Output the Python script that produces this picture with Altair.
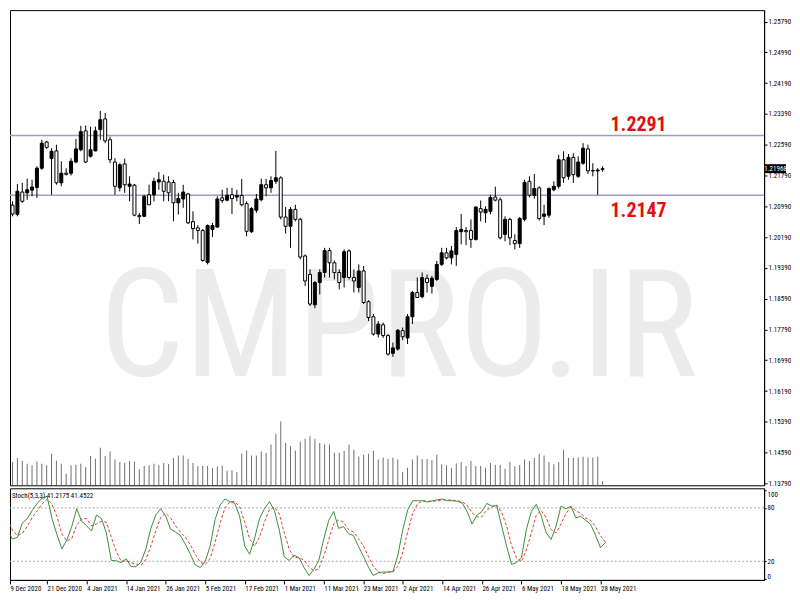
import altair as alt
import pandas as pd

# ---------------- data ----------------
date_labels = ["9 Dec 2020", "21 Dec 2020", "4 Jan 2021", "14 Jan 2021", "26 Jan 2021",
               "5 Feb 2021", "17 Feb 2021", "1 Mar 2021", "11 Mar 2021", "23 Mar 2021",
               "2 Apr 2021", "14 Apr 2021", "26 Apr 2021", "6 May 2021", "18 May 2021",
               "28 May 2021"]

opens = [1.2102, 1.2078, 1.2136, 1.2134, 1.2141, 1.2148, 1.2198, 1.2266, 1.2223, 1.2243,
         1.2160, 1.2185, 1.2185, 1.2214, 1.2246, 1.2295, 1.2229, 1.2243, 1.2298, 1.2326,
         1.2272, 1.2214, 1.2147, 1.2209, 1.2151, 1.2154, 1.2075, 1.2073, 1.2129, 1.2129,
         1.2162, 1.2164, 1.2162, 1.2161, 1.2108, 1.2118, 1.2131, 1.2059, 1.2043, 1.2036,
         1.1953, 1.2039, 1.2045, 1.2121, 1.2115, 1.2129, 1.2123, 1.2127, 1.2106, 1.2033,
         1.2089, 1.2116, 1.2155, 1.2147, 1.2164, 1.2173, 1.2071, 1.2047, 1.2091, 1.2065,
         1.1970, 1.1922, 1.1843, 1.1901, 1.1927, 1.1984, 1.1952, 1.1927, 1.1914, 1.1983,
         1.1914, 1.1888, 1.1931, 1.1851, 1.1812, 1.1767, 1.1791, 1.1763, 1.1717, 1.1728,
         1.1776, 1.1757, 1.1812, 1.1875, 1.1864, 1.1912, 1.1891, 1.1909, 1.1948, 1.1978,
         1.1965, 1.1974, 1.2033, 1.2036, 1.2036, 1.2013, 1.2093, 1.2082, 1.2086, 1.2123,
         1.2116, 1.2026, 1.2065, 1.2010, 1.2002, 1.2065, 1.2164, 1.2127, 1.2147, 1.2073,
         1.2076, 1.2142, 1.2151, 1.2220, 1.2177, 1.2226, 1.2177, 1.2211, 1.2248, 1.2192,
         1.2191, 1.2195]

highs = [1.2112, 1.2157, 1.2160, 1.2171, 1.2168, 1.2203, 1.2272, 1.2269, 1.2250, 1.2259,
         1.2216, 1.2198, 1.2224, 1.2274, 1.2308, 1.2309, 1.2306, 1.2306, 1.2347, 1.2341,
         1.2280, 1.2224, 1.2211, 1.2223, 1.2177, 1.2157, 1.2082, 1.2129, 1.2155, 1.2173,
         1.2188, 1.2181, 1.2177, 1.2168, 1.2134, 1.2155, 1.2134, 1.2086, 1.2050, 1.2040,
         1.2052, 1.2056, 1.2125, 1.2142, 1.2147, 1.2147, 1.2142, 1.2170, 1.2112, 1.2097,
         1.2131, 1.2171, 1.2170, 1.2177, 1.2243, 1.2177, 1.2097, 1.2097, 1.2103, 1.2069,
         1.1974, 1.1935, 1.1905, 1.1935, 1.1991, 1.1991, 1.1958, 1.1935, 1.1987, 1.1987,
         1.1935, 1.1948, 1.1944, 1.1855, 1.1819, 1.1801, 1.1797, 1.1767, 1.1745, 1.1780,
         1.1784, 1.1819, 1.1879, 1.1914, 1.1927, 1.1922, 1.1918, 1.1957, 1.1991, 1.1991,
         1.1996, 1.2045, 1.2079, 1.2045, 1.2065, 1.2099, 1.2114, 1.2099, 1.2129, 1.2150,
         1.2122, 1.2073, 1.2069, 1.2026, 1.2071, 1.2168, 1.2177, 1.2183, 1.2151, 1.2103,
         1.2148, 1.2164, 1.2233, 1.2242, 1.2235, 1.2237, 1.2229, 1.2263, 1.2259, 1.2211,
         1.2198, 1.2203]

lows = [1.2073, 1.2073, 1.2108, 1.2116, 1.2125, 1.2121, 1.2194, 1.2248, 1.2129, 1.2155,
        1.2151, 1.2179, 1.2179, 1.2211, 1.2242, 1.2211, 1.2226, 1.2242, 1.2272, 1.2263,
        1.2211, 1.2129, 1.2138, 1.2134, 1.2112, 1.2073, 1.2053, 1.2071, 1.2102, 1.2112,
        1.2142, 1.2112, 1.2112, 1.2060, 1.2078, 1.2095, 1.2053, 1.2013, 1.2002, 1.1955,
        1.1948, 1.2019, 1.2043, 1.2108, 1.2112, 1.2079, 1.2112, 1.2099, 1.2021, 1.2030,
        1.2082, 1.2112, 1.2125, 1.2134, 1.2157, 1.2065, 1.2028, 1.1991, 1.2060, 1.1961,
        1.1892, 1.1840, 1.1834, 1.1870, 1.1914, 1.1914, 1.1909, 1.1883, 1.1888, 1.1909,
        1.1875, 1.1875, 1.1845, 1.1801, 1.1763, 1.1758, 1.1757, 1.1711, 1.1708, 1.1724,
        1.1751, 1.1741, 1.1793, 1.1862, 1.1860, 1.1875, 1.1872, 1.1905, 1.1944, 1.1961,
        1.1948, 1.1944, 1.2000, 1.1998, 1.1991, 1.2010, 1.2060, 1.2056, 1.2078, 1.2112,
        1.2013, 1.2008, 1.1998, 1.1987, 1.1991, 1.2060, 1.2122, 1.2119, 1.2062, 1.2050,
        1.2069, 1.2138, 1.2145, 1.2160, 1.2168, 1.2160, 1.2173, 1.2207, 1.2183, 1.2177,
        1.2129, 1.2189]

closes = [1.2079, 1.2138, 1.2112, 1.2142, 1.2149, 1.2198, 1.2263, 1.2252, 1.2242, 1.2160,
          1.2185, 1.2182, 1.2216, 1.2248, 1.2293, 1.2214, 1.2246, 1.2295, 1.2324, 1.2269,
          1.2220, 1.2151, 1.2207, 1.2155, 1.2157, 1.2076, 1.2072, 1.2125, 1.2103, 1.2164,
          1.2168, 1.2138, 1.2134, 1.2108, 1.2119, 1.2136, 1.2056, 1.2041, 1.2036, 1.1958,
          1.2049, 1.2049, 1.2118, 1.2114, 1.2128, 1.2119, 1.2127, 1.2103, 1.2034, 1.2093,
          1.2118, 1.2155, 1.2147, 1.2166, 1.2173, 1.2071, 1.2047, 1.2091, 1.2065, 1.1967,
          1.1905, 1.1845, 1.1901, 1.1927, 1.1984, 1.1952, 1.1927, 1.1901, 1.1981, 1.1914,
          1.1905, 1.1931, 1.1849, 1.1810, 1.1767, 1.1793, 1.1763, 1.1715, 1.1731, 1.1777,
          1.1760, 1.1812, 1.1875, 1.1862, 1.1914, 1.1901, 1.1912, 1.1948, 1.1978, 1.1965,
          1.1983, 1.2036, 1.2039, 1.2033, 1.2013, 1.2097, 1.2084, 1.2091, 1.2122, 1.2115,
          1.2017, 1.2065, 1.2017, 1.2002, 1.2067, 1.2161, 1.2128, 1.2145, 1.2067, 1.2079,
          1.2145, 1.2151, 1.2220, 1.2173, 1.2226, 1.2181, 1.2214, 1.2250, 1.2191, 1.2191,
          1.2193, 1.21968]

volumes = [70000, 82000, 74000, 65000, 60000, 72000, 65000, 60000, 95000, 74000,
           65000, 35000, 60000, 62000, 65000, 54000, 88000, 80000, 113000, 88000,
           102000, 78000, 70000, 68000, 73000, 70000, 48000, 58000, 60000, 65000,
           60000, 67000, 64000, 82000, 90000, 90000, 80000, 67000, 57000, 59000,
           58000, 52000, 57000, 59000, 44000, 45000, 40000, 95000, 105000, 90000,
           90000, 102000, 98000, 123000, 155000, 192000, 127000, 118000, 105000, 132000,
           140000, 148000, 140000, 127000, 123000, 123000, 98000, 98000, 104000, 123000,
           107000, 87000, 92000, 95000, 104000, 78000, 84000, 80000, 84000, 78000,
           40000, 53000, 78000, 90000, 79000, 79000, 76000, 92000, 63000, 60000,
           53000, 66000, 70000, 58000, 73000, 58000, 58000, 53000, 67000, 61000,
           61000, 50000, 70000, 57000, 61000, 78000, 73000, 82000, 95000, 90000,
           70000, 63000, 70000, 107000, 82000, 83000, 84000, 86000, 84000, 84000,
           86000, 12000]

stoch_k = [54, 45, 47, 63, 68, 77, 85, 91, 93, 68,
           50, 34, 44, 59, 79, 65, 60, 54, 72, 68,
           52, 21, 20.5, 18.5, 23, 14, 14, 19, 34, 57,
           72, 79, 71, 56, 53, 49, 39, 28, 16, 13,
           20, 37, 67, 83, 90, 87, 85, 70, 37, 28,
           46, 68, 79, 87, 77, 55, 25, 21, 27, 24,
           13, 4, 11, 21, 45, 66, 76, 57, 59, 51,
           49, 37, 26, 14, 4, 7, 8, 8, 8.5, 27,
           56, 78, 88, 88, 88, 86.5, 88, 89, 90, 88,
           88, 87.5, 85.5, 76, 62, 72, 76, 85, 82, 82.5,
           59.5, 37, 16.5, 18.5, 24, 56, 76, 84, 71, 52,
           44.5, 59.5, 82, 79, 82, 69, 70.5, 66, 61.5, 49,
           35.3, 41.2175]

stoch_d = [67, 55, 48.7, 51.7, 59.3, 69.3, 76.7, 84.3, 89.7, 84,
           70.3, 50.7, 42.7, 45.7, 60.7, 67.7, 68, 59.7, 62, 64.7,
           64, 47, 31.2, 20, 20.7, 18.5, 17, 15.7, 22.3, 36.7,
           54.3, 69.3, 74, 68.7, 60, 52.7, 47, 38.7, 27.7, 19,
           16.3, 23.3, 41.3, 62.3, 80, 86.7, 87.3, 80.7, 64, 45,
           37, 47.3, 64.3, 78, 81, 73, 52.3, 33.7, 24.3, 24,
           21.3, 13.7, 9.3, 12, 25.7, 44, 62.3, 66.3, 64, 55.7,
           53, 45.7, 37.3, 25.7, 14.7, 8.3, 6.3, 7.7, 8.2, 14.5,
           30.5, 53.7, 74, 84.7, 88, 87.5, 87.5, 87.8, 89, 89,
           88.7, 87.8, 87, 83, 74.5, 70, 70, 77.7, 81, 83.2,
           74.7, 59.7, 37.7, 24, 19.7, 32.8, 52, 72, 77, 69,
           55.8, 52, 62, 73.5, 81, 76.7, 73.8, 68.5, 66, 58.8,
           48.6, 41.4522]

levels = [1.2283, 1.2128]
level_texts = ["1.2291", "1.2147"]
price_ticks = [1.13790, 1.14590, 1.15390, 1.16190, 1.16990, 1.17790, 1.18590, 1.19390,
               1.20190, 1.20990, 1.21790, 1.22590, 1.23390, 1.24190, 1.24990, 1.25790]
stoch_levels = [20, 80]
stoch_ticks = [0, 20, 80, 100]
watermark = "CMPRO.IR"

# ---------------- frames ----------------
n = len(closes)
df = pd.DataFrame({"i": list(range(n)), "open": opens, "high": highs, "low": lows,
                   "close": closes, "vol": volumes})
df_st = pd.DataFrame({"i": list(range(n)), "k": stoch_k, "d": stoch_d})
df_lv = pd.DataFrame({"lvl": levels, "txt": level_texts})
df_cur = pd.DataFrame({"p": [closes[-1]], "t": [f"{closes[-1]:.5f}"]})
df_sl = pd.DataFrame({"lvl": stoch_levels})

W = 757
H_PRICE = 477
H_STOCH = 92
COND = "Roboto Condensed, DejaVu Sans Condensed, Liberation Sans, sans-serif"
WM_FONT = COND
LBL_FONT = COND
AX_FONT = COND

xscale = alt.Scale(domain=[0.5, 153.1], nice=False, zero=False)
yscale = alt.Scale(domain=[1.13740, 1.26088], nice=False, zero=False)
sscale = alt.Scale(domain=[-0.9, 102.0], nice=False, zero=False)

price_axis = alt.Axis(orient="right", values=price_ticks, format=".5f", title=None,
                      grid=False, tickSize=3, labelPadding=1)
label_expr = "[" + ",".join(f"'{s}'" for s in date_labels) + "][round(datum.value/8)]"
x_vals = [0.5] + [8 * k for k in range(1, len(date_labels))]
x_axis = alt.Axis(values=x_vals, labelExpr=label_expr, labelAlign="left",
                  labelBaseline="top", tickSize=4, labelPadding=1, grid=False,
                  labelOverlap=False, labelFlush=False, title=None)
stoch_axis = alt.Axis(orient="right", values=stoch_ticks, format="d", title=None,
                      grid=False, tickSize=2, labelPadding=1, labelFlush=3)

xn = alt.X("i:Q", scale=xscale, axis=None)


def py(field):
    return alt.Y(field, scale=yscale, axis=price_axis)


# ---------------- price panel ----------------
base = alt.Chart(df)

wm = alt.Chart(df_cur).mark_text(
    font=WM_FONT, fontSize=150, color="#ececec", align="center", baseline="alphabetic"
).encode(x=alt.value(390), y=alt.value(367), text=alt.value(watermark))

vol = base.mark_bar(size=1, color="#6f6f6f", clip=True).encode(
    x=xn, y=alt.Y("vol:Q", scale=alt.Scale(domain=[0, 1431000], nice=False), axis=None)
)

lines = alt.Chart(df_lv).mark_rule(color="#9c9cc8", strokeWidth=1.5).encode(y=py("lvl:Q"))

wicks = base.mark_rule(color="black", strokeWidth=1, clip=True).encode(
    x=xn, y=py("low:Q"), y2="high:Q"
)

bodies = base.mark_bar(size=3, stroke="black", strokeWidth=1, clip=True).encode(
    x=xn,
    y=py("open:Q"),
    y2="close:Q",
    fill=alt.condition("datum.close > datum.open", alt.value("black"), alt.value("white")),
)

up_lbl = alt.Chart(df_lv.iloc[[0]]).mark_text(
    font=LBL_FONT, fontSize=20, fontWeight="bold", color="#e01010",
    align="center", baseline="alphabetic", dy=-4.5
).encode(x=alt.value(631), y=py("lvl:Q"), text="txt:N")

dn_lbl = alt.Chart(df_lv.iloc[[1]]).mark_text(
    font=LBL_FONT, fontSize=20, fontWeight="bold", color="#e01010",
    align="center", baseline="alphabetic", dy=21.5
).encode(x=alt.value(631), y=py("lvl:Q"), text="txt:N")

cur_box = alt.Chart(df_cur).mark_rule(color="black", strokeWidth=9).encode(
    x=alt.value(W + 1), x2=alt.value(W + 22), y=py("p:Q")
)
cur_txt = alt.Chart(df_cur).mark_text(
    font=AX_FONT, fontSize=7, color="white", align="center", baseline="middle"
).encode(x=alt.value(W + 11.5), y=py("p:Q"), text="t:N")

price_layers = alt.layer(wm, lines, wicks, bodies, up_lbl, dn_lbl, cur_box, cur_txt)
price = alt.layer(vol, price_layers).resolve_scale(y="independent").properties(
    width=W, height=H_PRICE
)

# ---------------- stochastic panel ----------------
st_lv = alt.Chart(df_sl).mark_rule(color="#a8a8a8", strokeDash=[2, 2], strokeWidth=1).encode(
    y=alt.Y("lvl:Q", scale=sscale, axis=stoch_axis)
)

k_line = alt.Chart(df_st).mark_line(color="#3b8f3b", strokeWidth=1, clip=True).encode(
    x=alt.X("i:Q", scale=xscale, axis=x_axis),
    y=alt.Y("k:Q", scale=sscale, axis=stoch_axis),
)

d_line = alt.Chart(df_st).mark_line(color="#e03c3c", strokeWidth=1, strokeDash=[3, 2],
                                    clip=True).encode(
    x=alt.X("i:Q", scale=xscale, axis=x_axis),
    y=alt.Y("d:Q", scale=sscale, axis=stoch_axis),
)

st_title = alt.Chart(df_cur).mark_text(
    font=AX_FONT, fontSize=7, color="black", align="left", baseline="middle"
).encode(x=alt.value(2), y=alt.value(8),
         text=alt.value(f"Stoch(5,3,3) {stoch_k[-1]:.4f} {stoch_d[-1]:.4f}"))

stoch = alt.layer(st_lv, d_line, k_line, st_title).properties(width=W, height=H_STOCH)

chart = alt.vconcat(price, stoch, spacing=0).properties(
    padding=0, background="white"
).configure_view(
    stroke="black", strokeWidth=1
).configure_axis(
    labelFont=AX_FONT, labelFontSize=7, labelColor="black",
    tickColor="black", domainColor="black"
)

chart.save("out.html", embed_options={"renderer": "svg", "actions": False})
